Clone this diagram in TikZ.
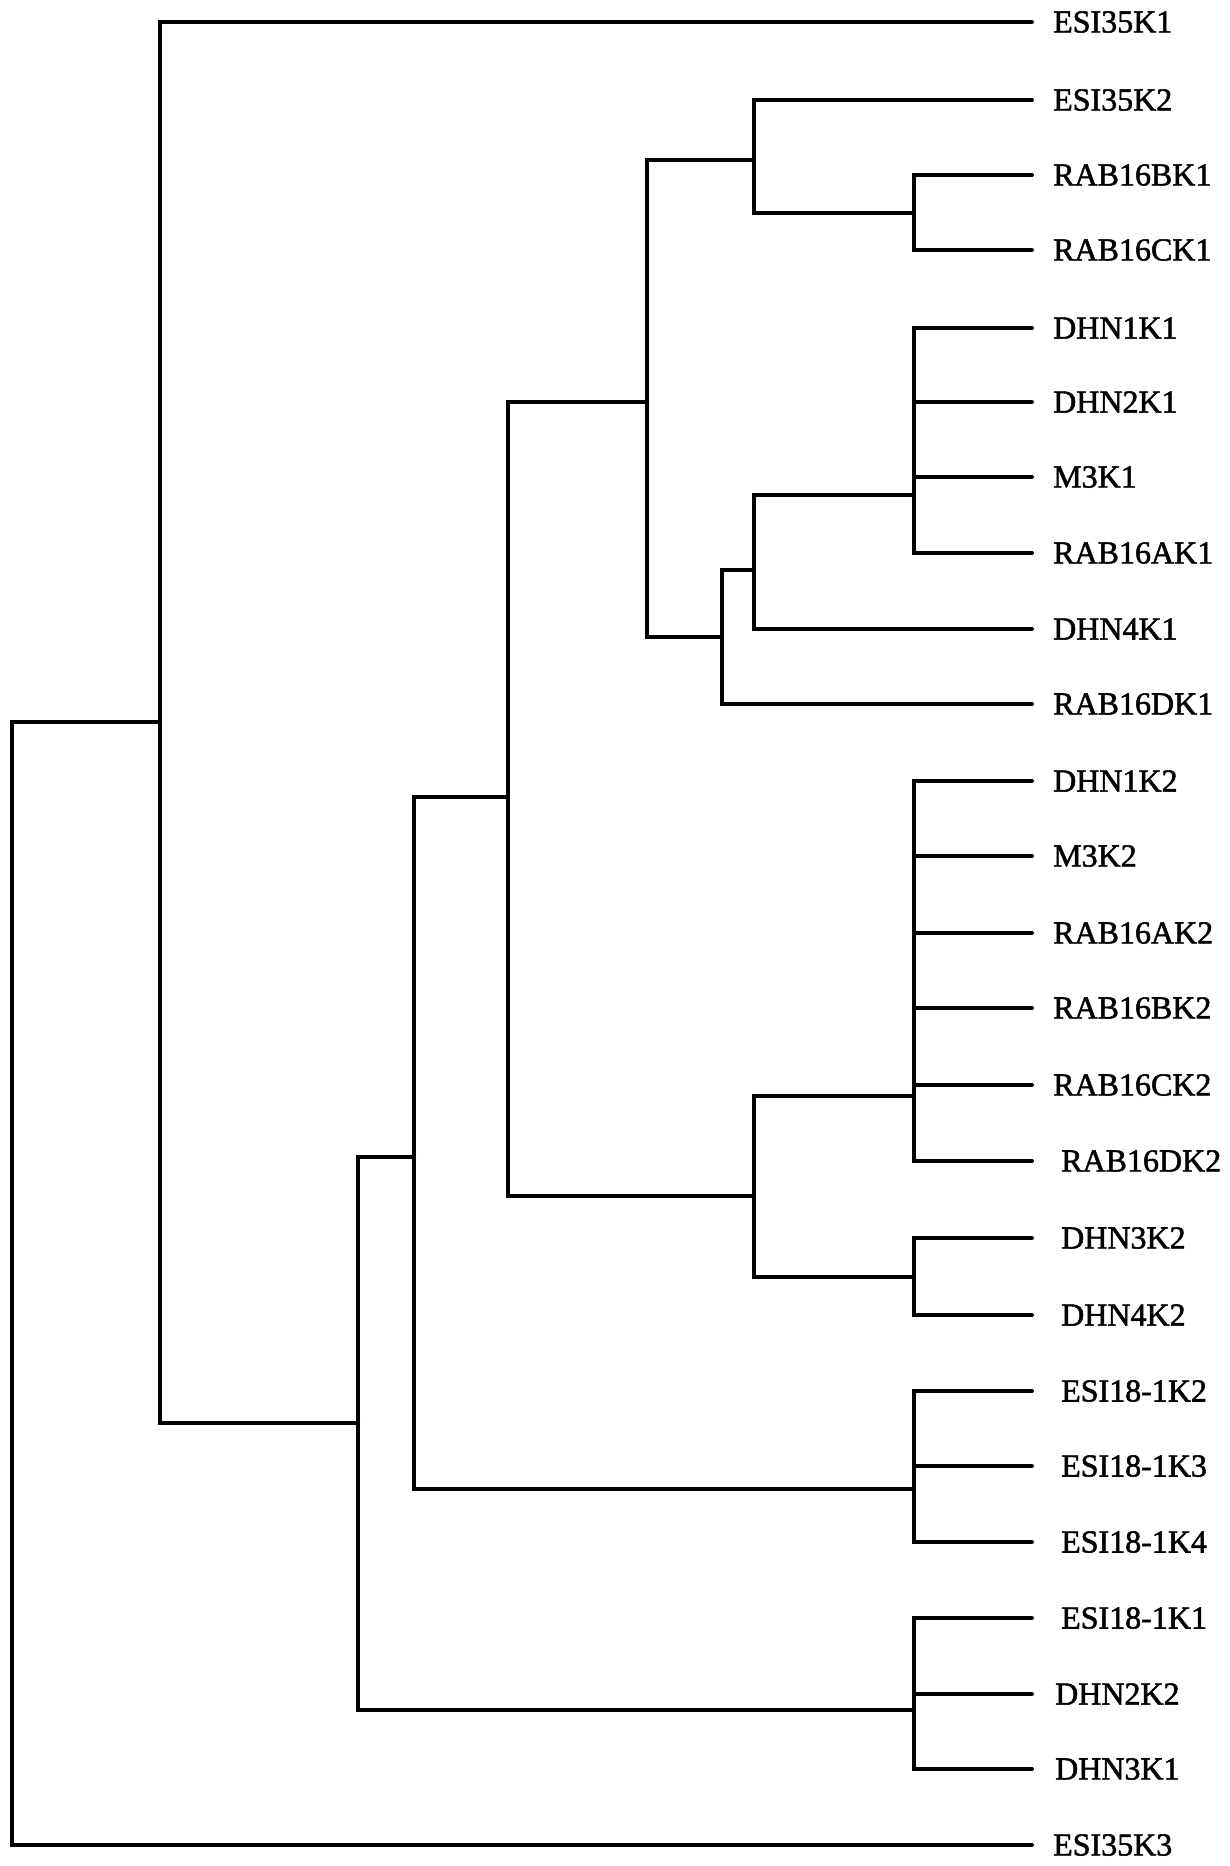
\documentclass[tikz,border=0pt]{standalone}
\usepackage{fontspec}
\setmainfont{Liberation Serif}[FakeBold=1.6]
\begin{document}
\begin{tikzpicture}[x=1pt,y=-1pt,
  br/.style={line width=4pt,line cap=round,line join=miter},
  lab/.style={anchor=west,inner sep=0pt,font=\fontsize{32}{32}\selectfont}]
\useasboundingbox[fill=white] (0,0) rectangle (1229,1866);
% leaf ends
\foreach \n/\y in {1/22,2/100,3/175,4/250,5/328,6/402,7/477,8/553,9/629,10/704,
  11/781,12/856,13/933,14/1008,15/1085,16/1161,17/1238,18/1315,19/1391,20/1466,
  21/1542,22/1618,23/1694,24/1769,25/1845}
  \coordinate (l\n) at (1032,\y);
% labels
\node[lab] (t1) at (1053,22) {ESI35K1};
\node[lab] (t2) at (1053,100) {ESI35K2};
\node[lab] (t3) at (1053,175) {RAB16BK1};
\node[lab] (t4) at (1053,250) {RAB16CK1};
\node[lab] (t5) at (1053,328) {DHN1K1};
\node[lab] (t6) at (1053,402) {DHN2K1};
\node[lab] (t7) at (1053,477) {M3K1};
\node[lab] (t8) at (1053,553) {RAB16AK1};
\node[lab] (t9) at (1053,629) {DHN4K1};
\node[lab] (t10) at (1053,704) {RAB16DK1};
\node[lab] (t11) at (1053,781) {DHN1K2};
\node[lab] (t12) at (1053,856) {M3K2};
\node[lab] (t13) at (1053,933) {RAB16AK2};
\node[lab] (t14) at (1053,1008) {RAB16BK2};
\node[lab] (t15) at (1053,1085) {RAB16CK2};
\node[lab] (t16) at (1061,1161) {RAB16DK2};
\node[lab] (t17) at (1061,1238) {DHN3K2};
\node[lab] (t18) at (1061,1315) {DHN4K2};
\node[lab] (t19) at (1061,1391) {ESI18-1K2};
\node[lab] (t20) at (1061,1466) {ESI18-1K3};
\node[lab] (t21) at (1061,1542) {ESI18-1K4};
\node[lab] (t22) at (1061,1618) {ESI18-1K1};
\node[lab] (t23) at (1055,1694) {DHN2K2};
\node[lab] (t24) at (1055,1769) {DHN3K1};
\node[lab] (t25) at (1053,1845) {ESI35K3};
% internal node attachment points
\coordinate (nR) at (12,1000);
\coordinate (nA) at (160,722);
\coordinate (nB) at (358,1423);
\coordinate (nC) at (414,1157);
\coordinate (nD) at (508,797);
\coordinate (nE) at (647,402);
\coordinate (nF) at (754,160);
\coordinate (nN1) at (914,213);
\coordinate (nG) at (722,637);
\coordinate (nH) at (754,570);
\coordinate (nN2) at (914,495);
\coordinate (nI) at (754,1196);
\coordinate (nN3) at (914,1096);
\coordinate (nN4) at (914,1277);
\coordinate (nN5) at (914,1489);
\coordinate (nN6) at (914,1710);
% brackets
\draw[br] (nA) -| (nR) |- (l25);
\draw[br] (l1) -| (nA) |- (nB);
\draw[br] (nC) -| (nB) |- (nN6);
\draw[br] (nD) -| (nC) |- (nN5);
\draw[br] (nE) -| (nD) |- (nI);
\draw[br] (nF) -| (nE) |- (nG);
\draw[br] (l2) -| (nF) |- (nN1);
\draw[br] (l3) -| (nN1) |- (l4);
\draw[br] (nH) -| (nG) |- (l10);
\draw[br] (nN2) -| (nH) |- (l9);
\draw[br] (l5) -| (nN2) |- (l8);
\draw[br] (nN2 |- l6) -- (l6);
\draw[br] (nN2 |- l7) -- (l7);
\draw[br] (nN3) -| (nI) |- (nN4);
\draw[br] (l11) -| (nN3) |- (l16);
\foreach \k in {12,13,14,15} \draw[br] (nN3 |- l\k) -- (l\k);
\draw[br] (l17) -| (nN4) |- (l18);
\draw[br] (l19) -| (nN5) |- (l21);
\draw[br] (nN5 |- l20) -- (l20);
\draw[br] (l22) -| (nN6) |- (l24);
\draw[br] (nN6 |- l23) -- (l23);
\end{tikzpicture}
\end{document}
